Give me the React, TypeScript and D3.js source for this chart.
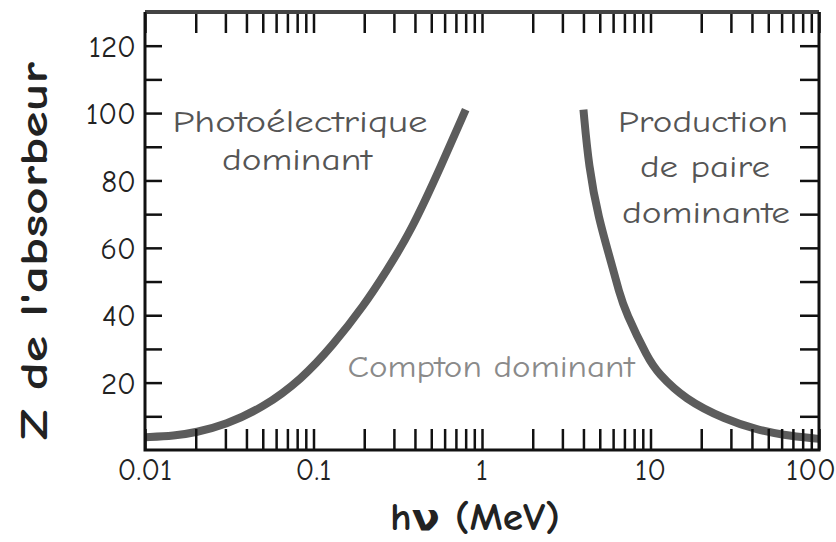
import { useEffect, useRef } from "react";
import * as d3 from "d3";

// boundary where photoelectric and Compton are equally likely
const photoEnergy = [0.01, 0.015, 0.02, 0.03, 0.05, 0.085, 0.13, 0.2, 0.27, 0.38, 0.58, 0.8];
const photoZ = [3.8, 4.2, 5.2, 7.5, 12.5, 21, 31, 43, 53, 65, 85, 101];

// boundary where Compton and pair production are equally likely
const pairEnergy = [4.0, 4.3, 4.9, 5.9, 6.5, 7.1, 9.7, 11, 16, 28, 43, 60, 100];
const pairZ = [101, 84, 69, 55, 47, 41, 27, 23, 15, 9, 6, 4.5, 3.3];

const xTickLabels = [0.01, 0.1, 1, 10, 100];
const yTicks = [10, 20, 30, 40, 50, 60, 70, 80, 90, 100, 110, 120];
const yTickLabels = [20, 40, 60, 80, 100, 120];

const FONT = "'Comic Sans MS', 'Comic Neue', 'DejaVu Sans', sans-serif";

export default function App() {
  const svgRef = useRef<SVGSVGElement | null>(null);

  useEffect(() => {
    const svgEl = svgRef.current;
    if (!svgEl) return;
    const svg = d3.select(svgEl);
    svg.selectAll("*").remove();

    const width = 836;
    const height = 542;
    const margin = { top: 12, right: 17, bottom: 92, left: 145 };
    const left = margin.left;
    const right = width - margin.right;
    const top = margin.top;
    const bottom = height - margin.bottom;

    const x = d3.scaleLog().domain([0.01, 100]).range([left, right]);
    const y = d3.scaleLinear().domain([0, 130]).range([bottom, top]);

    const line = d3
      .line<[number, number]>()
      .x((d) => x(d[0]))
      .y((d) => y(d[1]))
      .curve(d3.curveBasis);

    const photo = photoEnergy.map((e, i) => [e, photoZ[i]] as [number, number]);
    const pair = pairEnergy.map((e, i) => [e, pairZ[i]] as [number, number]);

    // curves
    svg.append("path")
      .datum(photo)
      .attr("fill", "none")
      .attr("stroke", "#5c5c5c")
      .attr("stroke-width", 8)
      .attr("d", line);

    svg.append("path")
      .datum(pair)
      .attr("fill", "none")
      .attr("stroke", "#5c5c5c")
      .attr("stroke-width", 8)
      .attr("d", line);

    // ticks (all pointing inward)
    const xTicks = x.ticks();
    const styleAxis = (g: any) => {
      g.select(".domain").remove();
      g.selectAll("line").attr("stroke", "#111").attr("stroke-width", 2.5);
    };

    svg.append("g")
      .attr("transform", `translate(0,${bottom})`)
      .call(d3.axisBottom(x).tickValues(xTicks).tickSize(-21).tickFormat(() => ""))
      .call(styleAxis);

    svg.append("g")
      .attr("transform", `translate(0,${top})`)
      .call(d3.axisTop(x).tickValues(xTicks).tickSize(-21).tickFormat(() => ""))
      .call(styleAxis);

    svg.append("g")
      .attr("transform", `translate(${left},0)`)
      .call(d3.axisLeft(y).tickValues(yTicks).tickSize(-17).tickFormat(() => ""))
      .call(styleAxis);

    svg.append("g")
      .attr("transform", `translate(${right},0)`)
      .call(d3.axisRight(y).tickValues(yTicks).tickSize(-19).tickFormat(() => ""))
      .call(styleAxis);

    // frame
    svg.append("line")
      .attr("x1", left).attr("x2", right).attr("y1", top).attr("y2", top)
      .attr("stroke", "#444").attr("stroke-width", 4);
    svg.append("path")
      .attr("d", `M${left},${top}V${bottom}H${right}V${top}`)
      .attr("fill", "none")
      .attr("stroke", "#111")
      .attr("stroke-width", 3);

    // tick labels
    svg.append("g")
      .selectAll("text")
      .data(xTickLabels)
      .join("text")
      .attr("x", (d) => Math.min(Math.max(x(d), 130), 811))
      .attr("y", bottom + 30)
      .attr("text-anchor", "middle")
      .attr("font-family", FONT)
      .attr("font-size", 31)
      .attr("fill", "#222")
      .text((d) => String(d));

    svg.append("g")
      .selectAll("text")
      .data(yTickLabels)
      .join("text")
      .attr("x", left - 9)
      .attr("y", (d) => y(d))
      .attr("dy", "0.36em")
      .attr("text-anchor", "end")
      .attr("font-family", FONT)
      .attr("font-size", 31)
      .attr("fill", "#222")
      .text((d) => String(d));

    // axis titles
    svg.append("text")
      .attr("x", 475)
      .attr("y", 530)
      .attr("text-anchor", "middle")
      .attr("font-family", FONT)
      .attr("font-size", 38)
      .attr("font-weight", "bold")
      .attr("fill", "#222")
      .attr("textLength", 170)
      .attr("lengthAdjust", "spacingAndGlyphs")
      .text("hν (MeV)");

    svg.append("text")
      .attr("transform", `translate(47,251) rotate(-90)`)
      .attr("text-anchor", "middle")
      .attr("font-family", FONT)
      .attr("font-size", 38)
      .attr("font-weight", "bold")
      .attr("fill", "#222")
      .attr("textLength", 378)
      .attr("lengthAdjust", "spacingAndGlyphs")
      .text("Z de l'absorbeur");

    // region labels
    const label = (t: string, cx: number, by: number, w: number, color: string, size = 30) =>
      svg.append("text")
        .attr("x", cx)
        .attr("y", by)
        .attr("text-anchor", "middle")
        .attr("font-family", FONT)
        .attr("font-size", size)
        .attr("fill", color)
        .attr("textLength", w)
        .attr("lengthAdjust", "spacingAndGlyphs")
        .text(t);

    label("Photoélectrique", 300, 132, 255, "#555");
    label("dominant", 297, 170, 150, "#555");
    label("Production", 703, 132, 170, "#555");
    label("de paire", 705, 177, 130, "#555");
    label("dominante", 706, 223, 168, "#555");
    label("Compton dominant", 491, 377, 287, "#8a8a8a");
  }, []);

  return (
    <svg
      ref={svgRef}
      width={836}
      height={542}
      style={{ position: "absolute", left: 0, top: 0, background: "#fff" }}
    />
  );
}
